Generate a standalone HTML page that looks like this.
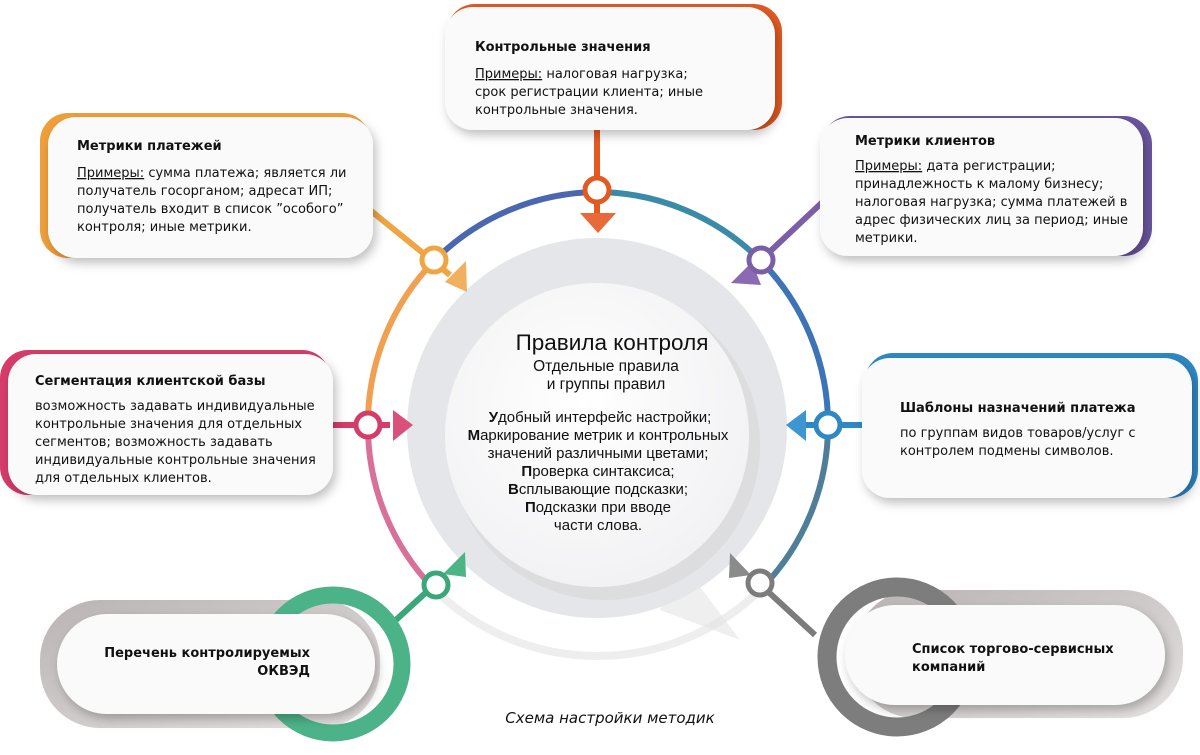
<!DOCTYPE html>
<html><head><meta charset="utf-8"><style>
body{margin:0;width:1200px;height:750px;background:#fff;overflow:hidden}
svg text{font-family:"DejaVu Sans","Liberation Sans",sans-serif;fill:#111}
svg .c text{font-family:"Liberation Sans",sans-serif}
</style></head><body>
<svg width="1200" height="750" viewBox="0 0 1200 750" xmlns="http://www.w3.org/2000/svg">
<defs>
<filter id="sh" x="-20%" y="-20%" width="140%" height="150%"><feDropShadow dx="3" dy="5" stdDeviation="5" flood-color="#000" flood-opacity="0.25"/></filter>
<radialGradient id="inner" cx="0.45" cy="0.4" r="0.6"><stop offset="0" stop-color="#fff"/><stop offset="1" stop-color="#f2f2f4"/></radialGradient>
<linearGradient id="gr" x1="0" y1="0" x2="1" y2="1"><stop offset="0" stop-color="#b9b3b3"/><stop offset="1" stop-color="#e6e2e2"/></linearGradient>
</defs>
<g fill="none" stroke-width="6">
<path d="M435 260 A233 233 0 0 1 597 192" stroke="#4a67b0"/>
<path d="M597 192 A233 233 0 0 1 760 260" stroke="#3a8aa8"/>
<path d="M760 260 A233 233 0 0 1 828 425" stroke="#3d74b8"/>
<path d="M828 425 A233 233 0 0 1 760 590" stroke="#4f7f98"/>
<path d="M368 425 A233 233 0 0 1 435 260" stroke="#f0a050"/>
<path d="M435 590 A233 233 0 0 1 368 425" stroke="#d8709a"/>
<path d="M760 590 A233 233 0 0 1 435 590" stroke="#eeeeee" stroke-width="8"/>
</g>
<path d="M680 560 L740 640 L660 610 Z" fill="#e4e4e4" opacity="0.6"/>
<circle cx="597" cy="428" r="190" fill="#e5e6e9"/>
<circle cx="605" cy="445" r="155" fill="#d7d7da" opacity="0.6"/>
<circle cx="597" cy="435" r="152" fill="url(#inner)"/>
<g stroke-width="6" fill="none">
<line x1="597" y1="130" x2="597" y2="215" stroke="#e25a22"/>
<line x1="370" y1="210" x2="450" y2="275" stroke="#f0a543"/>
<line x1="830" y1="195" x2="745" y2="275" stroke="#7a5fa8"/>
<line x1="330" y1="425" x2="390" y2="425" stroke="#d63c6a"/>
<line x1="800" y1="425" x2="865" y2="425" stroke="#2e88c4"/>
<line x1="385" y1="630" x2="445" y2="575" stroke="#3aa77a"/>
<line x1="815" y1="635" x2="750" y2="575" stroke="#7c7c7c"/>
</g>
<polygon points="580,213 616,213 598,233" fill="#e86a3a"/>
<polygon points="445,282 466,261 467,292" fill="#f0b060"/>
<polygon points="752,262 731,283 761,285" fill="#8a6ab2"/>
<polygon points="393,410 393,441 413,425" fill="#d9507a"/>
<polygon points="806,410 806,441 786,425" fill="#3d96d0"/>
<polygon points="443,574 465,552 466,577" fill="#4cb588"/>
<polygon points="751,575 730,553 729,578" fill="#8b8b8b"/>
<g fill="#fff" stroke-width="5">
<circle cx="597" cy="190" r="12" stroke="#e25a22"/>
<circle cx="434" cy="260" r="12" stroke="#f0a543"/>
<circle cx="761" cy="260" r="12" stroke="#7a5fa8"/>
<circle cx="368" cy="425" r="12" stroke="#d63c6a"/>
<circle cx="828" cy="425" r="12" stroke="#2e88c4"/>
<circle cx="436" cy="585" r="12" stroke="#3aa77a"/>
<circle cx="760" cy="583" r="12" stroke="#7c7c7c"/>
</g>
<g class="c" text-anchor="middle">
<text x="612" y="350" font-size="22.5">Правила контроля</text>
<text x="606" y="371" font-size="15.5">Отдельные правила</text>
<text x="606" y="389" font-size="15.5">и группы правил</text>
<g font-size="15">
<text x="600" y="422"><tspan font-weight="bold">У</tspan>добный интерфейс настройки;</text>
<text x="598" y="440"><tspan font-weight="bold">М</tspan>аркирование метрик и контрольных</text>
<text x="598" y="458">значений различными цветами;</text>
<text x="598" y="476"><tspan font-weight="bold">П</tspan>роверка синтаксиса;</text>
<text x="598" y="494"><tspan font-weight="bold">В</tspan>сплывающие подсказки;</text>
<text x="598" y="512"><tspan font-weight="bold">П</tspan>одсказки при вводе</text>
<text x="598" y="530">части слова.</text>
</g></g>
<rect x="447" y="4" width="335" height="126" rx="28" fill="#e25a22"/>
<rect x="445" y="7" width="330" height="123" rx="28" fill="#fafafa" filter="url(#sh)"/>
<g font-size="13">
<text x="475" y="51" font-weight="bold">Контрольные значения</text>
<text x="475" y="78"><tspan text-decoration="underline">Примеры:</tspan> налоговая нагрузка;</text>
<text x="475" y="96">срок регистрации клиента; иные</text>
<text x="475" y="114">контрольные значения.</text>
</g>
<rect x="40" y="113" width="330" height="145" rx="28" fill="#ef9f3a"/>
<rect x="48" y="117" width="325" height="141" rx="28" fill="#fafafa" filter="url(#sh)"/>
<g font-size="13">
<text x="77" y="150" font-weight="bold">Метрики платежей</text>
<text x="77" y="177"><tspan text-decoration="underline">Примеры:</tspan> сумма платежа; является ли</text>
<text x="77" y="195">получатель госорганом; адресат ИП;</text>
<text x="77" y="213">получатель входит в список ”особого”</text>
<text x="77" y="231">контроля; иные метрики.</text>
</g>
<rect x="822" y="116" width="330" height="140" rx="28" fill="#6a559e"/>
<rect x="820" y="118" width="323" height="138" rx="28" fill="#fafafa" filter="url(#sh)"/>
<g font-size="13">
<text x="855" y="145" font-weight="bold">Метрики клиентов</text>
<text x="855" y="170"><tspan text-decoration="underline">Примеры:</tspan> дата регистрации;</text>
<text x="855" y="188">принадлежность к малому бизнесу;</text>
<text x="855" y="206">налоговая нагрузка; сумма платежей в</text>
<text x="855" y="224">адрес физических лиц за период; иные</text>
<text x="855" y="242">метрики.</text>
</g>
<rect x="0" y="350" width="330" height="145" rx="28" fill="#d63c6a"/>
<rect x="8" y="354" width="325" height="141" rx="28" fill="#fafafa" filter="url(#sh)"/>
<g font-size="13">
<text x="35" y="385" font-weight="bold">Сегментация клиентской базы</text>
<text x="35" y="410">возможность задавать индивидуальные</text>
<text x="35" y="428">контрольные значения для отдельных</text>
<text x="35" y="446">сегментов;  возможность задавать</text>
<text x="35" y="464">индивидуальные контрольные значения</text>
<text x="35" y="482">для отдельных клиентов.</text>
</g>
<rect x="865" y="353" width="333" height="145" rx="28" fill="#2e88c4"/>
<rect x="862" y="358" width="330" height="140" rx="28" fill="#fafafa" filter="url(#sh)"/>
<g font-size="13">
<text x="900" y="412" font-weight="bold">Шаблоны назначений платежа</text>
<text x="900" y="437">по группам видов товаров/услуг с</text>
<text x="900" y="455">контролем подмены символов.</text>
</g>
<rect x="40" y="600" width="340" height="128" rx="60" fill="url(#gr)"/>
<circle cx="333" cy="664" r="69" fill="none" stroke="#4cb388" stroke-width="17"/>
<rect x="57" y="614" width="318" height="100" rx="50" fill="#fafafa" filter="url(#sh)"/>
<g font-size="13" font-weight="bold" text-anchor="end">
<text x="310" y="657">Перечень контролируемых</text>
<text x="310" y="675">ОКВЭД</text>
</g>
<rect x="855" y="590" width="328" height="128" rx="60" fill="url(#gr)"/>
<circle cx="897" cy="657" r="70" fill="none" stroke="#7d7d7d" stroke-width="19"/>
<rect x="845" y="605" width="320" height="100" rx="50" fill="#fafafa" filter="url(#sh)"/>
<g font-size="13" font-weight="bold">
<text x="912" y="653">Список торгово-сервисных</text>
<text x="912" y="671">компаний</text>
</g>
<text x="610" y="723" font-size="15" font-style="italic" text-anchor="middle" fill="#222">Схема настройки методик</text>
</svg>
</body></html>
